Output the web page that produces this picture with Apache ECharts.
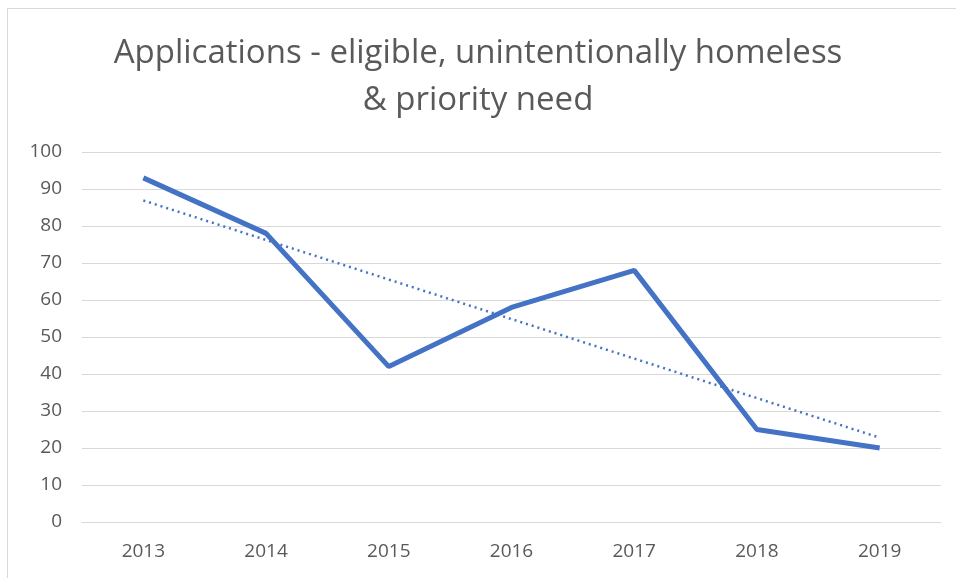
<!DOCTYPE html>
<html>
<head>
<meta charset="utf-8">
<script src="https://cdn.jsdelivr.net/npm/echarts@6/dist/echarts.min.js"></script>
<style>
    html, body { margin: 0; padding: 0; background: #fff; }
    #wrap { position: relative; width: 956px; height: 578px; overflow: hidden; }
    #frame { position: absolute; left: 7px; top: 8px; width: 1000px; height: 700px; border: 1px solid #d9d9d9; }
    #chart { position: absolute; left: 0; top: 0; width: 956px; height: 578px; }
</style>
</head>
<body>
<div id="wrap">
    <div id="frame"></div>
    <div id="chart"></div>
</div>
<script>
var years = ['2013', '2014', '2015', '2016', '2017', '2018', '2019'];
var applications = [93, 78, 42, 58, 68, 25, 20];
// trendline end points, joined straight across
var trend = [86.9, null, null, null, null, null, 22.8];

var myChart = echarts.init(document.getElementById('chart'));
var option = {
    animation: false,
    title: {
        text: 'Applications - eligible, unintentionally homeless\n& priority need',
        left: 'center',
        top: 25,
        textStyle: {
            fontFamily: 'Open Sans',
            fontSize: 33,
            fontWeight: 'normal',
            color: '#595959',
            lineHeight: 47
        }
    },
    grid: {
        left: 82,
        right: 15,
        top: 152,
        bottom: 56
    },
    xAxis: {
        type: 'category',
        data: years,
        boundaryGap: true,
        axisLine: { show: true, lineStyle: { color: '#d9d9d9', width: 1 } },
        axisTick: { show: false },
        axisLabel: {
            fontFamily: 'Open Sans',
            fontSize: 19,
            color: '#595959',
            margin: 20
        }
    },
    yAxis: {
        type: 'value',
        min: 0,
        max: 100,
        interval: 10,
        axisLine: { show: false },
        axisTick: { show: false },
        axisLabel: {
            fontFamily: 'Open Sans',
            fontSize: 19,
            color: '#595959',
            margin: 20
        },
        splitLine: { lineStyle: { color: '#d9d9d9', width: 1 } }
    },
    series: [
        {
            name: 'Applications',
            type: 'line',
            data: applications,
            symbol: 'none',
            lineStyle: { color: '#4472c4', width: 5 },
            z: 3
        },
        {
            name: 'Trend',
            type: 'line',
            data: trend,
            connectNulls: true,
            symbol: 'none',
            lineStyle: { color: '#4472c4', width: 2.5, type: [2, 4] },
            z: 2
        }
    ]
};
myChart.setOption(option);
</script>
</body>
</html>
